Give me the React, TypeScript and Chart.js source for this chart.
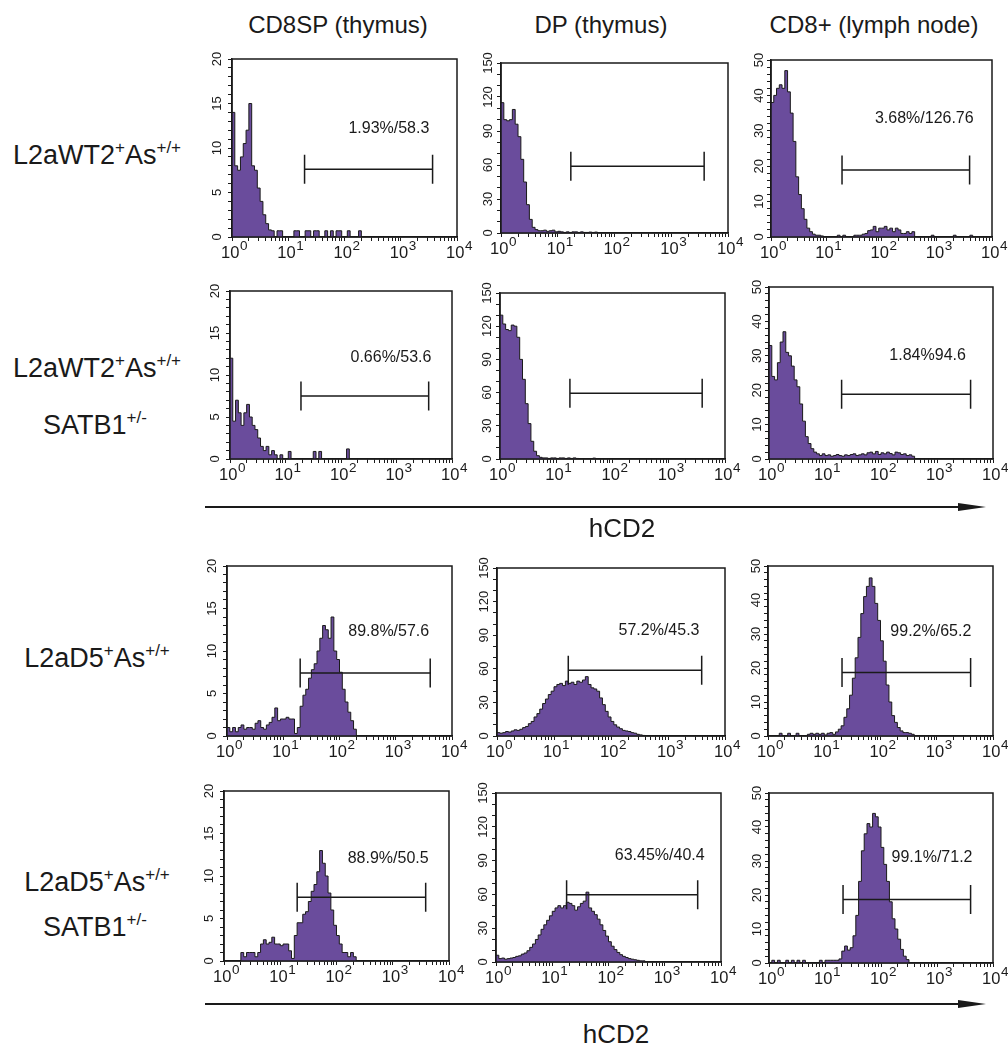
import React, { useEffect, useRef } from 'react';
import { Chart, registerables } from 'chart.js';

Chart.register(...registerables);

const FONT = '"Liberation Sans", Arial, Helvetica, sans-serif';

// histogram bin edges on the hCD2 axis (20 bins per decade)
const BIN_EDGES = [
  1, 1.122, 1.259, 1.413, 1.585, 1.778, 1.995, 2.239, 2.512, 2.818, 3.162, 3.548, 3.981, 4.467, 5.012, 5.623, 6.31, 7.079, 7.943, 8.913,
  10, 11.22, 12.59, 14.13, 15.85, 17.78, 19.95, 22.39, 25.12, 28.18, 31.62, 35.48, 39.81, 44.67, 50.12, 56.23, 63.1, 70.79, 79.43, 89.13,
  100, 112.2, 125.9, 141.3, 158.5, 177.8, 199.5, 223.9, 251.2, 281.8, 316.2, 354.8, 398.1, 446.7, 501.2, 562.3, 631, 707.9, 794.3, 891.3,
  1000, 1122, 1259, 1413, 1585, 1778, 1995, 2239, 2512, 2818, 3162, 3548, 3981, 4467, 5012, 5623, 6310, 7079, 7943, 8913,
  10000,
];

const X_TICKS = [1, 2, 3, 4, 5, 6, 7, 8, 9, 10, 20, 30, 40, 50, 60, 70, 80, 90, 100, 200, 300, 400, 500, 600, 700, 800, 900,
  1000, 2000, 3000, 4000, 5000, 6000, 7000, 8000, 9000, 10000];
const X_DECADES = [1, 10, 100, 1000, 10000];
const X_LABEL_BASE = '10';
const X_LABEL_EXP = ['0', '1', '2', '3', '4'];

const COLUMN_TITLES = ['CD8SP (thymus)', 'DP (thymus)', 'CD8+ (lymph node)'];
const Y_MAX = [20, 150, 50];
const Y_MAJOR = [5, 30, 10];
const Y_MINOR = [1, 10, 2];

// counts per bin (row 1: L2aWT2+As+/+)
const WT2_CD8SP = [14, 8, 7.5, 9, 10.5, 12, 15, 8, 7.5, 5.5, 4, 2.5, 1.5, 0.8, 0.7, 0, 0.7, 0.7, 0, 0, 0, 0, 0.7, 0.7, 0, 0, 0.7, 0.7, 0, 0.7,
  0.7, 0, 0, 0.7, 0, 0.7, 0, 0.7, 0.7, 0, 0, 0.7, 0, 0, 0, 0.7, 0];
const WT2_DP = [115, 100, 99, 100, 109, 96, 85, 65, 45, 25, 12, 5, 3, 2, 2, 2.5, 1.5, 2, 2.5, 1, 1.5, 1, 0.5, 1, 0.5, 1, 1, 0.5, 1, 0.5,
  0.5, 0.8, 0.5, 0.8, 0];
const WT2_CD8LN = [38, 40, 42, 43, 42, 47, 41, 35, 27, 17, 12, 8, 5, 2.5, 1.5, 0.8, 0.5, 0.5, 0.3, 0, 0, 0, 0, 0, 0.5, 0, 0.5, 0, 0, 0,
  0.5, 0.5, 0.5, 0.8, 1, 1.8, 2, 3, 1.5, 2.5, 2.5, 3, 2, 2.5, 1.5, 2.5, 2, 1, 1, 1.5, 1, 1.5, 0, 0, 0, 0, 0, 0, 0.5, 0,
  0, 0, 0, 0, 0, 0, 0.5, 0, 0, 0, 0, 0, 0.5, 0];

// row 2: L2aWT2+As+/+ SATB1+/-
const WT2S_CD8SP = [12, 4.5, 7, 5.5, 4, 5.5, 6.5, 5, 4, 3.5, 2.5, 1.5, 1, 1.5, 0.5, 1, 0.5, 0, 0.5, 0, 0, 0.9, 0, 0, 0, 0, 0, 0, 0, 0,
  0.9, 0, 0.9, 0, 0, 0, 0, 0, 0, 0, 0, 0, 1.2, 0];
const WT2S_DP = [130, 122, 117, 116, 121, 120, 110, 90, 72, 50, 32, 16, 7, 3, 1.5, 1, 1, 0.5, 1, 1, 0.5, 1, 1, 0.5, 1, 0.5, 1, 0.5, 0, 0,
  0, 0, 0, 0.8, 0];
const WT2S_CD8LN = [33, 24, 23, 28, 34, 37, 31, 30, 27, 23, 21, 16, 11, 6.5, 4.5, 3, 2, 1.5, 1, 1.5, 1, 1.2, 0.8, 1, 1.3, 1, 0.8, 1.2, 1, 1.3,
  1.5, 1, 1.2, 1.5, 1.2, 1.8, 2, 1.5, 2.2, 1.3, 1.8, 1.5, 2, 1.6, 1.2, 2, 1.8, 1.3, 1.5, 1, 1.2, 0.8, 0];

// row 3: L2aD5+As+/+
const D5_CD8SP = [1, 0.5, 1, 0.5, 1, 1.3, 0.8, 1, 1, 0.8, 1.5, 1.8, 1, 0.8, 1.3, 1.6, 2.2, 3.3, 1.8, 2, 2, 2.2, 2, 2, 0.3, 1, 3.5, 4.8, 5.5, 6.8,
  7.8, 8.5, 10, 11.5, 13, 12.5, 11.5, 14, 10, 9, 7.5, 5.5, 4, 2.8, 1.8, 0.8, 0];
const D5_DP = [3, 2.5, 3, 4, 3.5, 4.5, 5.5, 5, 6, 7.5, 8.5, 11, 13, 17, 20, 24, 29, 33, 37, 40, 44, 46, 47, 45, 49, 47, 48, 46, 49, 48,
  50, 53, 46, 43, 42, 40, 34, 28, 22, 17, 13, 10, 8, 6.5, 5, 4.5, 4, 3, 2.5, 1.5, 1, 0.5, 0];
const D5_CD8LN = [0, 0, 0, 0, 0.8, 0, 0, 0.8, 0, 0, 0.8, 0, 0, 0, 0.5, 0.8, 0.5, 0.8, 0.5, 0.8, 0.3, 0.8, 1, 0.5, 1.2, 2, 3, 5.5, 8, 12,
  17, 23, 29, 36, 41, 44, 46.5, 44, 39, 34, 28, 22, 15, 10, 6, 4, 2.5, 1.5, 1, 1, 0.8, 0.5, 0];

// row 4: L2aD5+As+/+ SATB1+/-
const D5S_CD8SP = [0, 0, 0, 0, 0, 0, 1, 0.5, 1, 1, 1, 0.5, 1, 2, 2.5, 2, 2.2, 2.8, 2, 2, 1.8, 2, 2, 1.2, 0.3, 3, 4.5, 4.5, 5.5, 5.8,
  7, 8.2, 9, 10.5, 13, 11.5, 10, 8, 6, 4.2, 3, 2, 1, 1, 0.5, 1, 0.5, 0];
const D5S_DP = [6, 3, 3.5, 2.5, 3, 3.5, 4, 5, 5.5, 7, 8, 10, 13, 16, 20, 24, 29, 33, 37, 41, 45, 48, 50, 48, 50, 53, 52, 50, 46, 49,
  52, 54, 62, 48, 45, 42, 38, 33, 28, 23, 18, 14, 11, 8.5, 6.5, 5, 4, 3, 2.5, 2, 1.5, 1, 1, 0];
const D5S_CD8LN = [0, 0.8, 0, 0.8, 0, 0, 0.8, 0, 0.8, 0, 0.8, 0, 0.8, 0, 0, 0, 0, 0, 0.8, 0, 0.8, 0.8, 0.8, 0.8, 0.8, 1.2, 3.5, 5, 3.8, 4.5,
  8, 14, 24, 33, 38, 41, 40, 44, 43, 40, 34, 29, 24, 18, 13, 10, 7, 4, 2, 1, 0];

const COUNTS = [WT2_CD8SP, WT2_DP, WT2_CD8LN, WT2S_CD8SP, WT2S_DP, WT2S_CD8LN, D5_CD8SP, D5_DP, D5_CD8LN, D5S_CD8SP, D5S_DP, D5S_CD8LN];

// gates (hCD2 range and height) and their annotations
const GATE_LO = [19.5, 17, 19.3, 19, 17.5, 19.8, 20, 17.8, 20.7, 20, 18, 21];
const GATE_HI = [3680, 3800, 3930, 3800, 3930, 3980, 4100, 3900, 4000, 3850, 3850, 3980];
const GATE_Y = [7.6, 59, 18.9, 7.5, 59.4, 18.8, 7.4, 58.8, 18.7, 7.5, 59.7, 18.7];
const GATE_TEXT = ['1.93%/58.3', '', '3.68%/126.76', '0.66%/53.6', '', '1.84%94.6', '89.8%/57.6', '57.2%/45.3', '99.2%/65.2',
  '88.9%/50.5', '63.45%/40.4', '99.1%/71.2'];
const TEXT_X = [615, 0, 595, 795, 0, 680, 750, 695, 785, 830, 815, 815];
const TEXT_Y = [12.2, 0, 33.4, 12.05, 0, 30.1, 12.3, 93.9, 30.8, 12.1, 94.3, 30.9];

// ---- layout / style (not data) ----
const PANEL_BOXES = [
  [232, 59, 457, 237], [501, 63, 728, 233], [771, 60, 992, 237],
  [230, 291, 452, 459], [500, 293, 725, 459], [769, 287, 993, 459],
  [227, 566, 452, 736], [497, 568, 725, 736], [768, 566, 993, 736],
  [224, 791, 449, 961], [496, 793, 721, 962], [769, 793, 993, 963],
];
const Y_LABEL_PAD = [3, -2, 0];
const FILL = '#6a4c9c';
const INK = '#1a1a1a';
const AXIS_W = 45;
const PAD_T = 12;
const PAD_R = 22;
const AXIS_H = 40;

function Panel({ idx }: { idx: number }) {
  const ref = useRef<HTMLCanvasElement | null>(null);
  const col = idx % 3;
  const [l, t, r, b] = PANEL_BOXES[idx];
  const w = AXIS_W + (r - l) + PAD_R;
  const h = PAD_T + (b - t) + AXIS_H;

  useEffect(() => {
    const counts = COUNTS[idx];
    const data = counts.map((v, i) => ({ x: BIN_EDGES[i], y: v }));
    const overlay = {
      id: 'overlay' + idx,
      afterDatasetsDraw(chart: any) {
        const { ctx, chartArea: a } = chart;
        const xs = chart.scales.x;
        const ys = chart.scales.y;
        ctx.save();
        ctx.strokeStyle = INK;
        ctx.lineWidth = 1.5;
        ctx.strokeRect(a.left, a.top, a.right - a.left, a.bottom - a.top);
        const x1 = xs.getPixelForValue(GATE_LO[idx]);
        const x2 = xs.getPixelForValue(GATE_HI[idx]);
        const gy = ys.getPixelForValue(GATE_Y[idx]);
        ctx.beginPath();
        ctx.moveTo(x1, gy);
        ctx.lineTo(x2, gy);
        ctx.moveTo(x1, gy - 14.5);
        ctx.lineTo(x1, gy + 14.5);
        ctx.moveTo(x2, gy - 14.5);
        ctx.lineTo(x2, gy + 14.5);
        ctx.stroke();
        if (GATE_TEXT[idx]) {
          ctx.font = `16px ${FONT}`;
          ctx.fillStyle = INK;
          ctx.textAlign = 'center';
          ctx.textBaseline = 'middle';
          ctx.fillText(GATE_TEXT[idx], xs.getPixelForValue(TEXT_X[idx]), ys.getPixelForValue(TEXT_Y[idx]));
        }
        ctx.restore();
      },
      afterDraw(chart: any) {
        // decade labels 10^n of the log axis, with a raised exponent
        const { ctx, chartArea: a } = chart;
        const xs = chart.scales.x;
        ctx.save();
        ctx.fillStyle = INK;
        ctx.textBaseline = 'alphabetic';
        ctx.textAlign = 'left';
        const baseY = a.bottom + 21;
        X_DECADES.forEach((v, k) => {
          const px = xs.getPixelForValue(v);
          ctx.font = `16.5px ${FONT}`;
          const wb = ctx.measureText(X_LABEL_BASE).width;
          ctx.font = `13.5px ${FONT}`;
          const we = ctx.measureText(X_LABEL_EXP[k]).width;
          const x0 = px - (wb + we) / 2 + 2;
          ctx.font = `16.5px ${FONT}`;
          ctx.fillText(X_LABEL_BASE, x0, baseY);
          ctx.font = `13.5px ${FONT}`;
          ctx.fillText(X_LABEL_EXP[k], x0 + wb + 0.5, baseY - 8.5);
        });
        ctx.restore();
      },
    };
    const chart = new Chart(ref.current as HTMLCanvasElement, {
      type: 'line',
      data: {
        datasets: [{
          data,
          stepped: true,
          fill: 'origin',
          backgroundColor: FILL,
          borderColor: INK,
          borderWidth: 1,
          pointRadius: 0,
          tension: 0,
        }],
      },
      options: {
        animation: false,
        responsive: false,
        devicePixelRatio: 1,
        events: [],
        layout: { padding: { left: 0, top: PAD_T, right: PAD_R, bottom: 0 } },
        plugins: { legend: { display: false }, tooltip: { enabled: false } },
        scales: {
          x: {
            type: 'logarithmic',
            min: 1,
            max: 10000,
            afterBuildTicks: (s: any) => { s.ticks = X_TICKS.map((v) => ({ value: v })); },
            afterFit: (s: any) => { s.height = AXIS_H; s.paddingLeft = 0; s.paddingRight = 0; },
            ticks: { display: false, autoSkip: false },
            grid: { drawOnChartArea: false, drawTicks: true, tickLength: 4, tickColor: INK, tickWidth: 1 },
            border: { display: true, color: INK, width: 1.5 },
          },
          y: {
            type: 'linear',
            min: 0,
            max: Y_MAX[col],
            afterFit: (s: any) => { s.width = AXIS_W; s.paddingTop = 0; s.paddingBottom = 0; },
            ticks: {
              stepSize: Y_MINOR[col],
              maxTicksLimit: 1000,
              autoSkip: false,
              minRotation: 90,
              maxRotation: 90,
              crossAlign: 'center',
              padding: Y_LABEL_PAD[col],
              color: INK,
              font: { family: FONT, size: 13 },
              callback: (v: any) => (Number(v) % Y_MAJOR[col] === 0 ? String(v) : ''),
            },
            grid: { drawOnChartArea: false, drawTicks: true, tickLength: 4, tickColor: INK, tickWidth: 1 },
            border: { display: true, color: INK, width: 1.5 },
          },
        },
      } as any,
      plugins: [overlay],
    });
    return () => chart.destroy();
  }, [idx]);

  return (
    <canvas
      ref={ref}
      width={w}
      height={h}
      style={{ position: 'absolute', left: l - AXIS_W, top: t - PAD_T, width: w, height: h, display: 'block' }}
    />
  );
}

const supStyle: React.CSSProperties = { fontSize: 17, position: 'relative', top: -11, lineHeight: 0 };

function Label({ x, top, size, children }: { x: number; top: number; size: number; children: React.ReactNode }) {
  return (
    <div
      style={{
        position: 'absolute',
        left: x,
        top,
        transform: 'translateX(-50%)',
        fontSize: size,
        lineHeight: `${size}px`,
        whiteSpace: 'nowrap',
        color: INK,
      }}
    >
      {children}
    </div>
  );
}

function Arrow({ y }: { y: number }) {
  return (
    <svg style={{ position: 'absolute', left: 0, top: y - 10, width: 1008, height: 20 }} width={1008} height={20}>
      <line x1={205} y1={10} x2={962} y2={10} stroke={INK} strokeWidth={2} />
      <polygon points="958,6 986,10 958,14" fill={INK} />
    </svg>
  );
}

const HEADER_X = [338, 601, 874];

export default function App() {
  return (
    <div
      style={{
        position: 'absolute',
        left: 0,
        top: 0,
        width: 1008,
        height: 1050,
        background: '#fff',
        fontFamily: FONT,
        overflow: 'hidden',
      }}
    >
      {COLUMN_TITLES.map((t, i) => (
        <Label key={t} x={HEADER_X[i]} top={13} size={24}>{t}</Label>
      ))}

      <Label x={97} top={142} size={27}>L2aWT2<span style={supStyle}>+</span>As<span style={supStyle}>+/+</span></Label>
      <Label x={97} top={355} size={27}>L2aWT2<span style={supStyle}>+</span>As<span style={supStyle}>+/+</span></Label>
      <Label x={95} top={412} size={27}>SATB1<span style={supStyle}>+/-</span></Label>
      <Label x={97} top={645} size={27}>L2aD5<span style={supStyle}>+</span>As<span style={supStyle}>+/+</span></Label>
      <Label x={97} top={869} size={27}>L2aD5<span style={supStyle}>+</span>As<span style={supStyle}>+/+</span></Label>
      <Label x={95} top={914} size={27}>SATB1<span style={supStyle}>+/-</span></Label>

      {PANEL_BOXES.map((_, i) => (
        <Panel key={i} idx={i} />
      ))}

      <Arrow y={507} />
      <Label x={622} top={515} size={26}>hCD2</Label>
      <Arrow y={1004} />
      <Label x={616} top={1021} size={26}>hCD2</Label>
    </div>
  );
}
